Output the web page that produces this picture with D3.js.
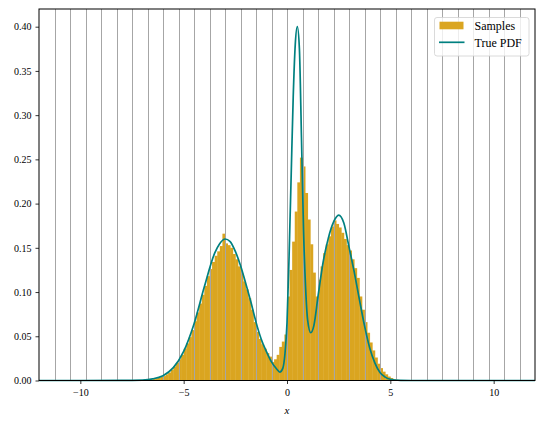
<!DOCTYPE html>
<html>
<head>
<meta charset="utf-8">
<script src="https://cdn.jsdelivr.net/npm/d3@7"></script>
<style>
  body { margin: 0; background: #fff; }
  text { font-family: "Liberation Serif", "DejaVu Serif", serif; }
</style>
</head>
<body>
<svg id="chart" width="544" height="425"></svg>
<script>
// histogram of the samples: first bin edge, bin width, density per bin
const binStart = -6.5;
const binWidth = 0.125;
const sampleDensity = [
  // -6.5 .. 0
  0.002, 0.0025, 0.003, 0.004, 0.005, 0.007, 0.009, 0.012,
  0.016, 0.020, 0.024, 0.029, 0.036, 0.042, 0.049, 0.057,
  0.067, 0.077, 0.087, 0.097, 0.107, 0.118, 0.126, 0.134,
  0.141, 0.146, 0.152, 0.166, 0.155, 0.153, 0.150, 0.143,
  0.137, 0.129, 0.121, 0.112, 0.103, 0.093, 0.080, 0.066,
  0.055, 0.047, 0.041, 0.036, 0.031, 0.027, 0.021, 0.024,
  0.029, 0.038, 0.044, 0.052,
  // 0 .. 1.5
  0.095, 0.125, 0.157, 0.191, 0.224, 0.252, 0.242, 0.212,
  0.182, 0.154, 0.122, 0.095,
  // 1.5 .. 5.5
  0.114, 0.129, 0.144, 0.154, 0.163, 0.174, 0.181, 0.177,
  0.173, 0.167, 0.160, 0.153, 0.147, 0.137, 0.127, 0.116,
  0.095, 0.080, 0.066, 0.054, 0.043, 0.034, 0.026, 0.019,
  0.014, 0.010, 0.007, 0.0045, 0.0028, 0.0016, 0.0009, 0.0004
];

// true pdf
const pdfX = [-12, -8, -7, -6.5, -6, -5.5, -5, -4.5, -4, -3.5, -3.25, -3, -2.75, -2.5,
  -2.25, -2, -1.75, -1.5, -1.25, -1, -0.75, -0.5, -0.35, -0.2, -0.1, 0, 0.1, 0.2, 0.3,
  0.4, 0.5, 0.6, 0.7, 0.8, 0.9, 1.0, 1.15, 1.3, 1.5, 1.75, 2.0, 2.25, 2.5, 2.75, 3.0,
  3.25, 3.5, 3.75, 4.0, 4.25, 4.5, 4.75, 5.0, 5.5, 6, 8, 12];
const pdfY = [0, 0.00005, 0.0005, 0.0018, 0.0055, 0.0145, 0.033, 0.064, 0.106, 0.144, 0.155, 0.160, 0.157, 0.146,
  0.130, 0.110, 0.089, 0.066, 0.047, 0.033, 0.021, 0.013, 0.0095, 0.014, 0.03, 0.065, 0.14, 0.23, 0.32,
  0.38, 0.40, 0.375, 0.275, 0.17, 0.105, 0.068, 0.054, 0.062, 0.095, 0.134, 0.161, 0.179, 0.187, 0.178, 0.151,
  0.123, 0.092, 0.062, 0.037, 0.02, 0.009, 0.0038, 0.0014, 0.0002, 0.00002, 0, 0];

const xTicks = [-10, -5, 0, 5, 10];
const yTicks = [0, 0.05, 0.10, 0.15, 0.20, 0.25, 0.30, 0.35, 0.40];
const gridStep = 0.75;

const width = 544, height = 425;
const margin = {top: 9, right: 9, bottom: 44.5, left: 39};

const svg = d3.select("#chart");

const x = d3.scaleLinear()
    .domain([-12, 12])
    .range([margin.left, width - margin.right]);

const y = d3.scaleLinear()
    .domain([0, 0.42])
    .range([height - margin.bottom, margin.top]);

// bars
svg.append("g")
  .selectAll("rect")
  .data(sampleDensity)
  .join("rect")
    .attr("x", (d, i) => x(binStart + i * binWidth))
    .attr("y", d => y(d))
    .attr("width", x(binWidth) - x(0) + 0.4)
    .attr("height", d => y(0) - y(d))
    .attr("fill", "#daa520");

// vertical grid, snapped to pixels
const gridVals = d3.range(-15, 16).map(k => k * gridStep).filter(v => v > -12 && v < 12);
svg.append("g")
  .selectAll("line")
  .data(gridVals)
  .join("line")
    .attr("x1", d => Math.round(x(d)) + 0.5).attr("x2", d => Math.round(x(d)) + 0.5)
    .attr("y1", y(0)).attr("y2", margin.top)
    .attr("stroke", "#a6a6a6")
    .attr("stroke-width", 1);

// pdf curve
const line = d3.line()
    .x(d => x(d[0]))
    .y(d => y(d[1]))
    .curve(d3.curveMonotoneX);

svg.append("path")
    .datum(pdfX.map((v, i) => [v, pdfY[i]]))
    .attr("d", line)
    .attr("fill", "none")
    .attr("stroke", "#008080")
    .attr("stroke-width", 1.7)
    .attr("stroke-linejoin", "round");

// axes
const xAxis = svg.append("g")
    .attr("transform", `translate(0,${y(0)})`)
    .call(d3.axisBottom(x)
      .tickValues(xTicks)
      .tickSize(3.5)
      .tickPadding(5)
      .tickFormat(d => d < 0 ? "\u2212" + Math.abs(d) : d));

const yAxis = svg.append("g")
    .attr("transform", `translate(${margin.left},0)`)
    .call(d3.axisLeft(y)
      .tickValues(yTicks)
      .tickSize(3.5)
      .tickPadding(4)
      .tickFormat(d3.format(".2f")));

[xAxis, yAxis].forEach(g => {
  g.select(".domain").remove();
  g.selectAll("line").attr("stroke", "#000").attr("stroke-width", 0.8);
  g.selectAll("text")
    .attr("fill", "#000")
    .style("font-family", '"Liberation Serif", serif')
    .style("font-size", "10px");
});

// frame
svg.append("rect")
    .attr("x", margin.left)
    .attr("y", margin.top)
    .attr("width", width - margin.left - margin.right)
    .attr("height", y(0) - margin.top)
    .attr("fill", "none")
    .attr("stroke", "#000")
    .attr("stroke-width", 1);

// x label
svg.append("text")
    .attr("x", x(0))
    .attr("y", 414)
    .attr("text-anchor", "middle")
    .style("font-style", "italic")
    .style("font-size", "11px")
    .text("x");

// legend
const legend = svg.append("g").attr("transform", "translate(434.5,17.5)");
legend.append("rect")
    .attr("width", 94.5)
    .attr("height", 38.5)
    .attr("rx", 2.5)
    .attr("fill", "#fff")
    .attr("fill-opacity", 0.8)
    .attr("stroke", "#d0d0d0")
    .attr("stroke-width", 0.8);
legend.append("rect")
    .attr("x", 5).attr("y", 4.2)
    .attr("width", 24).attr("height", 7.6)
    .attr("fill", "#daa520");
legend.append("line")
    .attr("x1", 4.5).attr("x2", 30)
    .attr("y1", 24.8).attr("y2", 24.8)
    .attr("stroke", "#008080")
    .attr("stroke-width", 1.7);
legend.append("text")
    .attr("x", 40).attr("y", 12.5)
    .style("font-size", "12px")
    .text("Samples");
legend.append("text")
    .attr("x", 40).attr("y", 29.5)
    .style("font-size", "12px")
    .text("True PDF");
</script>
</body>
</html>
